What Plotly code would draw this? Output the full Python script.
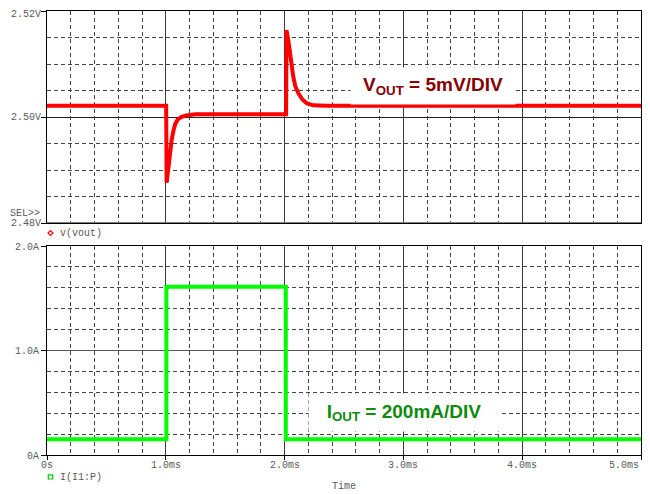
import plotly.graph_objects as go

# ---------------- data ----------------
t_vout = [0.0, 1.003, 1.007, 1.02, 1.035, 1.05, 1.065, 1.08, 1.10, 1.13, 1.17, 1.25,
          2.013, 2.016, 2.031, 2.045, 2.06, 2.073, 2.09, 2.115, 2.15, 2.186, 2.24, 2.35, 5.0]
v_out = [2.5021, 2.5021, 2.4876, 2.4905, 2.4935, 2.4958, 2.4975, 2.4987, 2.4995, 2.5000, 2.5003, 2.5005,
         2.5005, 2.5164, 2.5145, 2.5120, 2.5096, 2.5076, 2.5058, 2.5045, 2.5033, 2.5026, 2.5022, 2.5021, 2.5021]

t_iout = [0.0, 1.005, 1.005, 2.01, 2.01, 5.0]
i_out = [0.15, 0.15, 1.61, 1.61, 0.15, 0.15]

x_tick_vals = [0, 1, 2, 3, 4, 5]
x_tick_text = ["0s", "1.0ms", "2.0ms", "3.0ms", "4.0ms", "5.0ms"]
v_tick_vals = [2.48, 2.50, 2.52]
v_tick_text = ["2.48V", "2.50V", "2.52V"]
i_tick_vals = [0, 1, 2]
i_tick_text = ["0A", "1.0A", "2.0A"]

# ---------------- layout helpers ----------------
OFF = 8                      # page body margin offset
W, H = 642, 486
ML, MR, MT, MB = 39, 9, 3, 39
PW, PH = W - ML - MR, H - MT - MB


def px_x(px):
    return (px - OFF - ML) / PW


def px_y(py):
    return (H - MB - (py - OFF)) / PH


MONO = "Liberation Mono, Courier New, monospace"
LBL = "#5a5a5a"
DASH = "4px,3px"

fig = go.Figure()
fig.add_trace(go.Scatter(x=t_vout, y=v_out, mode="lines", xaxis="x2", yaxis="y2",
                         line=dict(color="#ff0000", width=4), hoverinfo="skip", showlegend=False))
fig.add_trace(go.Scatter(x=t_iout, y=i_out, mode="lines", xaxis="x", yaxis="y",
                         line=dict(color="#00ff00", width=4), hoverinfo="skip", showlegend=False))

xcommon = dict(range=[0, 5], tickmode="array", tickvals=x_tick_vals,
               showgrid=True, gridcolor="#3a3a3a", gridwidth=1,
               minor=dict(tickmode="linear", tick0=0, dtick=0.2, showgrid=True,
                          gridcolor="#444444", gridwidth=1, griddash=DASH, ticks=""),
               showline=True, mirror=True, linecolor="black", linewidth=1,
               zeroline=False, fixedrange=True, automargin=False)

fig.update_layout(
    width=W, height=H,
    margin=dict(l=ML, r=MR, t=MT, b=MB, pad=0, autoexpand=False),
    paper_bgcolor="white", plot_bgcolor="white",
    showlegend=False,
    xaxis=dict(**xcommon, anchor="y", ticks="outside", ticklen=4, tickcolor="black",
               showticklabels=False),
    xaxis2=dict(**xcommon, anchor="y2", matches="x", ticks="", showticklabels=False),
    yaxis=dict(domain=[0, px_y(246)], range=[0, 2.0], tickmode="array",
               tickvals=i_tick_vals, ticktext=i_tick_text,
               ticks="outside", ticklen=5, tickcolor="black",
               tickfont=dict(family=MONO, size=10, color=LBL),
               showgrid=True, gridcolor="#555555", gridwidth=1,
               minor=dict(tickmode="linear", tick0=0, dtick=0.2, showgrid=True,
                          gridcolor="#444444", gridwidth=1, griddash=DASH, ticks=""),
               showline=True, mirror=True, linecolor="black", linewidth=1,
               zeroline=False, fixedrange=True, automargin=False),
    yaxis2=dict(domain=[px_y(223), 1], range=[2.48, 2.52], tickmode="array",
                tickvals=v_tick_vals,
                ticks="outside", ticklen=5, tickcolor="black", showticklabels=False,
                showgrid=True, gridcolor="#222222", gridwidth=1,
                minor=dict(tickmode="linear", tick0=2.48, dtick=0.005, showgrid=True,
                           gridcolor="#444444", gridwidth=1, griddash=DASH, ticks=""),
                showline=True, mirror=True, linecolor="black", linewidth=1,
                zeroline=False, fixedrange=True, automargin=False),
)

# grey bottom border of the top plot
fig.add_shape(type="line", xref="x2 domain", yref="y2", x0=0, x1=1, y0=2.48, y1=2.48,
              line=dict(color="#808080", width=2), layer="above")

# legend-like markers
d = [(48, 233), (50.5, 230.5), (53, 233), (50.5, 235.5)]
path = "M " + " L ".join(f"{px_x(a):.5f},{px_y(b):.5f}" for a, b in d) + " Z"
fig.add_shape(type="path", xref="paper", yref="paper", path=path,
              line=dict(color="#ff0000", width=1.2))
fig.add_shape(type="rect", xref="paper", yref="paper",
              x0=px_x(48.3), x1=px_x(52.7), y0=px_y(479), y1=px_y(474.8),
              line=dict(color="#00cc00", width=1.2))

ann = []
# x tick labels
for v, t in zip(x_tick_vals, x_tick_text):
    ann.append(dict(x=v, y=px_y(465), xref="x", yref="paper", text=t, showarrow=False,
                    xanchor="right" if v == 5 else "center", yanchor="middle",
                    font=dict(family=MONO, size=10, color=LBL)))
# top-plot y tick labels
for v, t in zip(v_tick_vals, v_tick_text):
    ann.append(dict(x=px_x(42), y=v, xref="paper", yref="y2", text=t, showarrow=False,
                    xanchor="right", yanchor="middle", borderpad=0,
                    yshift=-3 if v == max(v_tick_vals) else 0,
                    font=dict(family=MONO, size=10, color=LBL)))
ann += [
    dict(x=px_x(42), y=px_y(213), xref="paper", yref="paper", text="SEL>>", showarrow=False,
         xanchor="right", yanchor="middle", font=dict(family=MONO, size=10, color=LBL)),
    dict(x=px_x(58), y=px_y(233), xref="paper", yref="paper", text="v(vout)", showarrow=False,
         xanchor="left", yanchor="middle", font=dict(family=MONO, size=10, color=LBL)),
    dict(x=px_x(58), y=px_y(477), xref="paper", yref="paper", text="I(I1:P)", showarrow=False,
         xanchor="left", yanchor="middle", font=dict(family=MONO, size=10, color=LBL)),
    dict(x=px_x(344), y=px_y(487), xref="paper", yref="paper", text="Time", showarrow=False,
         xanchor="center", yanchor="middle", font=dict(family=MONO, size=10, color=LBL)),
    dict(x=3.25, y=2.50585, xref="x2", yref="y2",
         text="<b>V<sub>OUT</sub> = 5mV/DIV</b>", showarrow=False,
         xanchor="center", yanchor="middle", width=164, height=36, bgcolor="white", borderpad=0,
         font=dict(family="Liberation Sans, Arial, sans-serif", size=19, color="#850000")),
    dict(x=3.005, y=0.405, xref="x", yref="y",
         text="<b>I<sub>OUT</sub> = 200mA/DIV</b>", showarrow=False,
         xanchor="center", yanchor="middle", width=190, height=37, bgcolor="white", borderpad=0,
         font=dict(family="Liberation Sans, Arial, sans-serif", size=19, color="#108a10")),
]
fig.update_layout(annotations=ann)

fig.write_html("out.html")
